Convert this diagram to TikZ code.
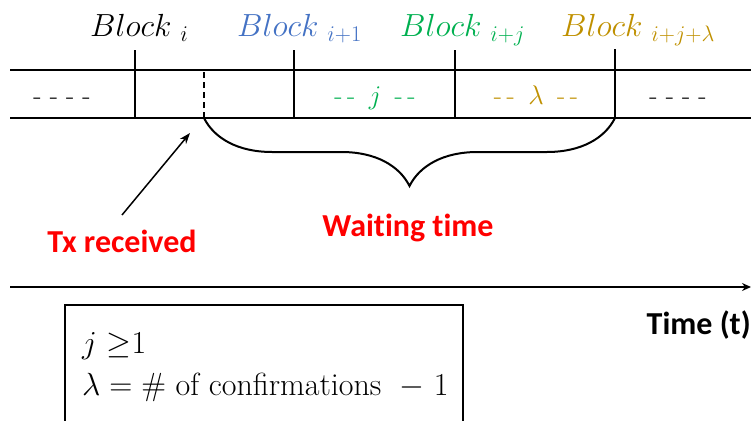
\RequirePackage{fix-cm}
\documentclass[tikz,border=0pt]{standalone}
\usepackage{amsmath,amssymb}
\usepackage{fontspec}
\usepackage{xcolor}
\usetikzlibrary{arrows.meta,decorations.pathreplacing}
\newfontfamily\calibri[Ligatures=NoCommon]{Carlito}
\definecolor{blkblue}{HTML}{4472C4}
\definecolor{blkgreen}{HTML}{00B050}
\definecolor{blkgold}{HTML}{BF9000}
\definecolor{alert}{HTML}{FF0000}
\tikzset{
  rail/.style={draw=black, line width=2pt},
  bound/.style={draw=black, line width=2pt},
  recv/.style={draw=black, line width=2pt, dash pattern=on 6pt off 4pt},
  blk/.style={font=\fontsize{32}{38}\selectfont, inner sep=0pt, anchor=base west},
  gap/.style={font=\fontsize{27}{32}\selectfont, inner sep=0pt, anchor=base},
  callout/.style={text=alert, font=\calibri\bfseries\fontsize{32}{38}\selectfont, inner sep=0pt, anchor=base},
  note/.style={font=\fontsize{32}{38}\selectfont, inner sep=0pt, anchor=base west},
}
\begin{document}
\begin{tikzpicture}[x=1pt,y=-1pt]
  \useasboundingbox (0,0) rectangle (751,420);
  % chain of blocks
  \coordinate (L1) at (10,70);   \coordinate (R1) at (751,70);
  \coordinate (L2) at (10,118);  \coordinate (R2) at (751,118);
  \draw[rail] (L1)--(R1);
  \draw[rail] (L2)--(R2);
  \coordinate (bi) at (135,118);
  \coordinate (bi1) at (294,118);
  \coordinate (bij) at (455,118);
  \coordinate (bijl) at (615,118);
  \coordinate (tx) at (204,118);
  \draw[bound] (bi)--++(0,-68);
  \draw[bound] (bi1)--++(0,-68);
  \draw[bound] (bij)--++(0,-68);
  \draw[bound] (bijl)--++(0,-69);
  \draw[recv] (tx)--++(0,-48);
  \node[blk] (lbi) at (90,37) {$Block\;{}_{i}$};
  \node[blk,text=blkblue] (lbi1) at (237,37) {$Block\;{}_{i+1}$};
  \node[blk,text=blkgreen] (lbij) at (400,37) {$Block\;{}_{i+j}$};
  \node[blk,text=blkgold] (lbijl) at (561,37) {$Block\;{}_{i+j+\lambda}$};
  \node[gap] (g1) at (62,104) {- - - -};
  \node[gap,text=blkgreen] (g2) at (375,104) {-\,-\enspace$j$\enspace-\,-};
  \node[gap,text=blkgold] (g3) at (536,104) {-\,-\enspace$\lambda$\enspace-\,-};
  \node[gap] (g4) at (678,104) {- - - -};
  % waiting time
  \draw[line width=2pt, decorate,
        decoration={brace, mirror, amplitude=68pt}] (tx)--(bijl);
  \node[callout] (wait) at (408,236) {Waiting time};
  \node[callout] (recvd) at (122,252) {Tx received};
  \coordinate (txtip) at (190,133);
  \draw[line width=1.5pt, -{Stealth[length=11pt,width=8pt]}] (122,215)--(txtip);
  % time axis
  \coordinate (t0) at (10,287);
  \coordinate (t1) at (751,287);
  \draw[line width=2pt, -{Stealth[length=9pt,width=8pt]}] (t0)--(t1);
  \node[callout,text=black,anchor=base east] (time) at (751,334) {Time (t)};
  % conditions
  \draw[line width=1.5pt] (65,421)--(65,305)--(463,305)--(463,421);
  \node[note] (c1) at (82,353) {$j$ $\geq$1};
  \node[note] (c2) at (82,395) {$\lambda = \#$ of confirmations $\;-\;1$};
\end{tikzpicture}
\end{document}
